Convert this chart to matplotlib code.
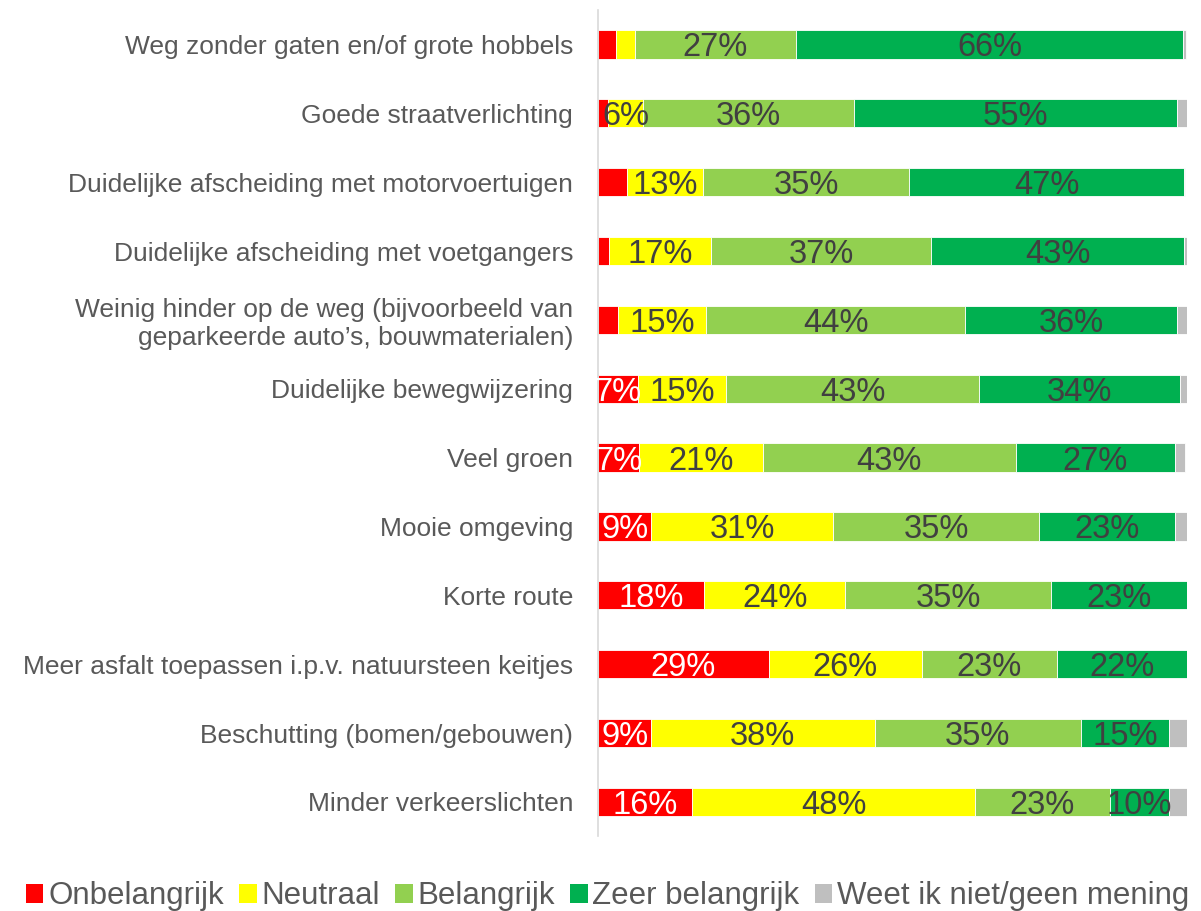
import numpy as np
import matplotlib.pyplot as plt
from matplotlib.patches import Patch

plt.rcParams["font.family"] = ["Liberation Sans", "DejaVu Sans"]

# Data (percentages, top row first)
categories = [
    "Weg zonder gaten en/of grote hobbels",
    "Goede straatverlichting",
    "Duidelijke afscheiding met motorvoertuigen",
    "Duidelijke afscheiding met voetgangers",
    "Weinig hinder op de weg (bijvoorbeeld van\ngeparkeerde auto’s, bouwmaterialen)",
    "Duidelijke bewegwijzering",
    "Veel groen",
    "Mooie omgeving",
    "Korte route",
    "Meer asfalt toepassen i.p.v. natuursteen keitjes",
    "Beschutting (bomen/gebouwen)",
    "Minder verkeerslichten",
]
onbelangrijk = [3, 1.7, 4.9, 1.9, 3.4, 6.8, 7, 9, 18, 29, 9, 16]
neutraal = [3.2, 6, 13, 17.3, 15, 15, 21, 31, 24, 26, 38, 48]
belangrijk = [27.4, 35.7, 35, 37.4, 44, 43, 43, 35, 35, 23, 35, 23]
zeer_belangrijk = [65.8, 55, 46.6, 43, 36, 34, 27, 23, 23, 22, 15, 10]
weet_niet = [0.5, 1.7, 0.3, 0.4, 1.6, 1.2, 1.7, 2.2, 0, 0.3, 3.4, 3]

series_names = ["Onbelangrijk", "Neutraal", "Belangrijk", "Zeer belangrijk",
                "Weet ik niet/geen mening"]
series = [onbelangrijk, neutraal, belangrijk, zeer_belangrijk, weet_niet]
colors = ["#ff0000", "#ffff00", "#92d050", "#00b050", "#bfbfbf"]
label_colors = ["white", "#404040", "#404040", "#404040", None]

fig = plt.figure(figsize=(12.01, 9.11), dpi=100)
ax = fig.add_axes([0.498, 0.082, 0.490, 0.907])

y = np.arange(len(categories))
left = np.zeros(len(categories))
for vals, col, lc in zip(series, colors, label_colors):
    vals = np.array(vals, dtype=float)
    ax.barh(y, vals, left=left, height=0.41, color=col,
            edgecolor="white", linewidth=0.6)
    if lc is not None:
        for yi, (l, v) in enumerate(zip(left, vals)):
            if v >= 5.5:
                ax.text(l + v / 2, yi, f"{round(v)}%", ha="center",
                        va="center_baseline", fontsize=23.5, color=lc)
    left += vals

ax.set_xlim(0, 100)
ax.set_ylim(len(categories) - 0.5, -0.5)
ax.set_yticks(y)
ax.set_yticklabels(categories, fontsize=19, color="#595959")
ax.tick_params(axis="y", length=0, pad=18)
ax.set_xticks([])
for s in ["top", "right", "bottom"]:
    ax.spines[s].set_visible(False)
ax.spines["left"].set_color("#d9d9d9")
ax.spines["left"].set_linewidth(1.2)

handles = [Patch(facecolor=c, label=n) for c, n in zip(colors, series_names)]
fig.legend(handles=handles, loc="center", bbox_to_anchor=(0.506, 0.016), ncol=5,
           frameon=False, fontsize=22.5, labelcolor="#595959",
           handlelength=0.55, handleheight=0.55, handletextpad=0.15,
           columnspacing=0.5)

fig.savefig("out.png", dpi=100)
plt.close()
